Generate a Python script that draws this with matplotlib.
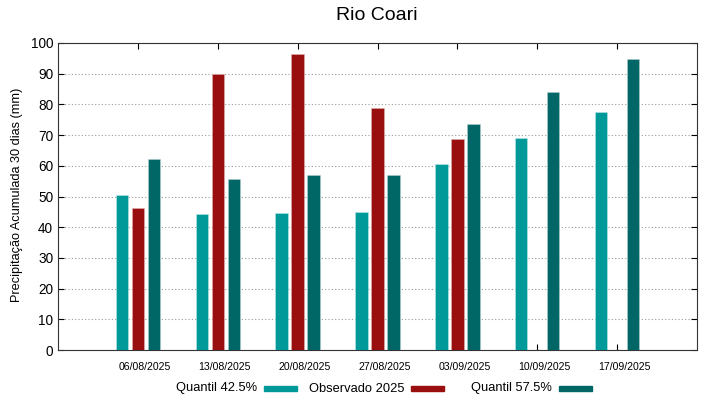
import numpy as np
import matplotlib.pyplot as plt
import matplotlib.transforms as mtransforms
from matplotlib.patches import Rectangle

plt.rcParams['font.family'] = ['Liberation Sans', 'DejaVu Sans']

#------ Dados -------
datas = ['06/08/2025', '13/08/2025', '20/08/2025', '27/08/2025',
         '03/09/2025', '10/09/2025', '17/09/2025']
quantil_425 = [50.6, 44.2, 44.6, 44.8, 60.7, 69.1, 77.4]
observado   = [46.1, 90.0, 96.3, 78.7, 68.6, np.nan, np.nan]
quantil_575 = [62.1, 55.8, 56.9, 57.1, 73.6, 84.1, 94.8]
series      = ['Quantil 42.5%', 'Observado 2025', 'Quantil 57.5%']

cor_q425 = '#009999'
cor_obs  = '#990f0f'
cor_q575 = '#006666'

x = np.arange(len(datas))
larg = 0.155
desl = 0.2

W, H = 719, 399

#------ Figura -------
fig = plt.figure(figsize=(W/100, H/100), dpi=100)
ax = fig.add_axes([58/W, 1 - 350/H, (697-58)/W, (350-43)/H])

ax.bar(x - desl, quantil_425, larg, color=cor_q425, edgecolor='#b8e6e6', linewidth=0.4, zorder=3)
ax.bar(x,        observado,   larg, color=cor_obs,  edgecolor='#e0b0b0', linewidth=0.4, zorder=3)
ax.bar(x + desl, quantil_575, larg, color=cor_q575, edgecolor='#b0d0d0', linewidth=0.4, zorder=3)

ax.set_xlim(-1, 7)
ax.set_ylim(0, 100)
ax.set_xticks(x)
ax.set_xticklabels(datas, fontsize=7.6)
ax.set_yticks(np.arange(0, 101, 10))
ax.tick_params(axis='y', labelsize=9.8, direction='in', right=True, length=4)
ax.tick_params(axis='x', direction='in', top=True, length=4, pad=9)
ax.yaxis.grid(True, linestyle=(0, (1, 2)), color='#999999', linewidth=0.8, zorder=0)
ax.set_axisbelow(True)
for s in ax.spines.values():
    s.set_color('#333333')

# rotulos de data deslocados um pouco para a direita (como no original)
desloc = mtransforms.ScaledTranslation(7/100, 0, fig.dpi_scale_trans)
for lbl in ax.get_xticklabels():
    lbl.set_transform(lbl.get_transform() + desloc)

fig.text(17/W, 1 - 195/H, 'Precipitação Acumulada 30 dias (mm)', rotation=90,
         ha='center', va='center', fontsize=9.2)
fig.text(377/W, 1 - 15/H, 'Rio Coari', ha='center', va='center', fontsize=14)

#------ Legenda (estilo gnuplot: texto a direita + amostra) -------
cores = [cor_q425, cor_obs, cor_q575]
fim_texto = [257, 404, 552]
ini_amostra = [264, 411, 559]
y_leg = 388.5
for nome, cor, xt, xa in zip(series, cores, fim_texto, ini_amostra):
    fig.text(xt/W, 1 - y_leg/H, nome, ha='right', va='center', fontsize=9.3)
    fig.patches.append(Rectangle((xa/W, 1 - (y_leg + 2.5)/H), 33/W, 5/H,
                                 transform=fig.transFigure, color=cor, figure=fig))

plt.savefig('out.png', dpi=100)
